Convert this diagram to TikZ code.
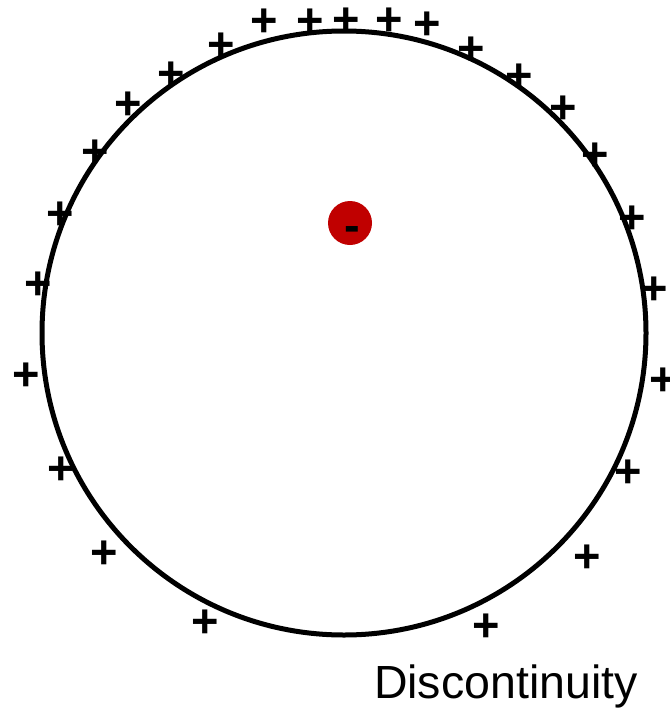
\documentclass[tikz,border=0pt]{standalone}
\usepackage{fontspec}
\setmainfont{Liberation Sans}
\definecolor{dotred}{RGB}{192,0,0}
\begin{document}
\begin{tikzpicture}[x=1pt, y=-1pt, line width=5pt,
  charge/.style={font=\fontsize{47}{47}\selectfont\bfseries, inner sep=0pt, anchor=base}]
  \useasboundingbox (0,0) rectangle (669,709);
  % 도체 표면
  \node[draw, circle, minimum size=604pt, inner sep=0pt] (ring) at (344,333) {};
  % 음전하
  \node[circle, fill=dotred, minimum size=44pt, inner sep=0pt] (dot) at (350,223) {};
  \node[charge] (minus) at (352,241) {-};
  % 양전하
  \foreach \px/\py [count=\i] in {221/43, 264/20, 310/20, 346/19, 389/19, 427/23,
      471/47, 519/74, 563/106, 595/153, 632/216, 654/287, 663/378, 628/470,
      587/555, 486/624, 205/620, 104/551, 61/467, 26/373, 38/282, 60/212,
      95/150, 128/102, 171/72}
    \node[charge] (plus\i) at (\px,\py+17) {+};
  \node[anchor=base west, font=\fontsize{46.5}{46.5}\selectfont, inner sep=0pt] (label) at (371.5,698) {Discontinuity};
\end{tikzpicture}
\end{document}
